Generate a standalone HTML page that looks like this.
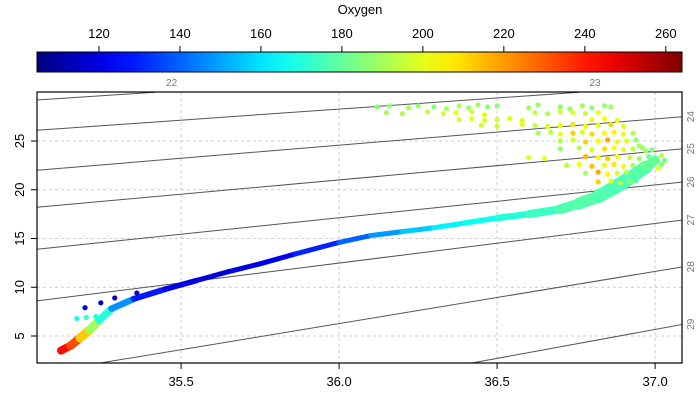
<!DOCTYPE html>
<html><head><meta charset="utf-8"><style>
body{margin:0;background:#fff;}
svg{display:block;font-family:"Liberation Sans",Arial,sans-serif;}
</style></head><body>
<svg id="chart" width="700" height="400" viewBox="0 0 700 400" xmlns="http://www.w3.org/2000/svg">
<defs><linearGradient id="jet" x1="0" x2="1" y1="0" y2="0"></linearGradient>
<clipPath id="clip"><rect x="37" y="92" width="645" height="271"/></clipPath></defs>
<text x="360" y="14" font-size="13" text-anchor="middle">Oxygen</text>
<g id="cbar"></g>
<g id="grid"></g>
<g id="iso" clip-path="url(#clip)"></g>
<g id="isolab"></g>
<g id="pts" clip-path="url(#clip)"></g>
<rect x="37" y="92" width="645" height="271" fill="none" stroke="#000" stroke-width="1.2"/>
<g id="axes"></g>
</svg>
<script>
const NS="http://www.w3.org/2000/svg";
// data
const xTicks=[35.5,36.0,36.5,37.0];
const yTicks=[5,10,15,20,25];
const cbTicks=[120,140,160,180,200,220,240,260];
const sigmaLabels=["22","23","24","25","26","27","28","29"];
// isopycnal endpoints in salinity/temperature
const isoS0=[35.044,35.044,35.044,35.044,35.044,35.044,35.244,36.420];
const isoT0=[29.2,26.1,22.0,18.2,13.9,8.6,2.23,2.23];
const isoS1=[35.417,36.76,37.089,37.089,37.089,37.089,37.089,37.089];
const isoT1=[30.0,30.0,27.5,24.2,20.8,16.9,12.1,6.2];
const isoLabS=[35.47,36.81];
// backbone of the profile
const bS=[35.12,35.15,35.18,35.21,35.24,35.28,35.35,35.45,35.55,35.65,35.75,35.86,36.0,36.1,36.2,36.3,36.4,36.5,36.6,36.7,36.76,36.82,36.87,36.92,36.97,37.0];
const bT=[3.5,4.0,4.8,5.6,6.6,7.8,8.8,9.8,10.7,11.6,12.4,13.4,14.6,15.3,15.7,16.1,16.6,17.1,17.5,18.0,18.6,19.3,20.2,21.2,22.3,23.0];
const bO=[245,240,225,200,180,160,135,122,118,118,120,125,135,145,152,160,165,168,172,176,178,178,176,176,178,182];
const bW=[8,8,9,9,8,7,6,6,5,5,5,5,5,5,5,5,5,6,7,9,11,13,14,14,12,8];
// scattered points
const pS=[35.17,35.2,35.23,35.196,35.246,35.29,35.36,
36.12,36.16,36.22,36.25,36.3,36.34,36.38,36.41,36.44,36.47,36.5,36.6,36.63,36.7,36.73,36.77,36.8,36.84,36.86,
36.15,36.2,36.28,36.33,36.37,36.42,36.46,36.62,36.66,36.7,36.74,36.78,36.82,
36.38,36.42,36.46,36.5,36.54,36.58,36.8,36.84,36.88,
36.45,36.5,36.58,36.62,36.66,36.7,36.74,36.78,36.82,36.86,36.9,
36.63,36.67,36.7,36.74,36.77,36.8,36.84,36.87,36.9,36.93,
36.7,36.74,36.78,36.82,36.85,36.88,36.91,36.94,
36.7,36.76,36.8,36.84,36.87,36.9,36.93,36.96,36.99,
36.6,36.65,36.78,36.82,36.85,36.88,36.92,36.95,36.98,37.0,
36.72,36.76,36.8,36.84,36.87,36.9,36.93,36.96,36.98,
36.78,36.82,36.85,36.88,36.91,36.94,36.96,
36.82,36.86,36.89,36.92,36.94,
37.02,37.03,37.02,37.01,36.97,36.95];
const pT=[6.8,6.9,7.0,7.9,8.4,8.9,9.4,
28.5,28.6,28.4,28.6,28.5,28.3,28.6,28.4,28.7,28.5,28.6,28.4,28.7,28.5,28.3,28.6,28.4,28.6,28.5,
27.9,27.8,28.0,27.8,27.9,28.0,27.7,27.9,27.8,28.0,27.9,27.8,27.9,
27.2,27.3,27.1,27.2,27.3,27.1,27.2,27.3,27.1,
26.6,26.5,26.7,26.6,26.5,26.6,26.7,26.5,26.6,26.7,26.5,
25.8,25.9,25.7,25.8,25.9,25.7,25.8,25.9,25.7,25.8,
25.0,25.1,24.9,25.0,25.1,24.9,25.0,25.1,
24.2,24.3,24.1,24.2,24.3,24.1,24.2,24.3,24.1,
23.3,23.2,23.4,23.3,23.2,23.4,23.3,23.2,23.4,23.3,
22.5,22.6,22.4,22.5,22.6,22.4,22.5,22.6,22.4,
21.7,21.8,21.6,21.7,21.8,21.6,21.7,
20.8,20.9,20.7,20.8,20.9,
22.6,23.0,23.5,22.2,24.0,24.5];
const pO=[168,172,170,115,115,115,115,
185,187,190,188,186,190,192,188,190,187,185,190,188,186,188,190,187,188,189,
190,192,195,198,200,196,199,194,192,196,198,195,200,
198,200,199,196,200,198,202,204,200,
198,196,200,195,200,202,208,205,200,210,200,
190,194,200,212,198,210,202,206,200,192,
192,198,212,205,218,200,198,188,
188,192,200,210,205,200,195,188,185,
198,200,215,205,212,202,196,188,182,180,
194,205,214,200,208,202,190,182,178,
190,218,205,198,192,180,176,
212,200,194,186,178,
185,182,195,200,188,190];
const cmin=104.7,cmax=264;
const X=s=>37+(s-35.044)*316, Y=t=>363-(t-2.23)*9.75;
function jet(v){let f=(v-cmin)/(cmax-cmin);f=Math.max(0,Math.min(1,f));
 const c=x=>Math.round(255*Math.max(0,Math.min(1,x)));
 return `rgb(${c(1.5-Math.abs(4*f-3))},${c(1.5-Math.abs(4*f-2))},${c(1.5-Math.abs(4*f-1))})`;}
function mk(tag,attrs,parent){const e=document.createElementNS(NS,tag);for(const k in attrs)e.setAttribute(k,attrs[k]);parent.appendChild(e);return e;}
// gradient
const g=document.getElementById('jet');
for(let i=0;i<=20;i++){mk('stop',{offset:(i/20),'stop-color':jet(cmin+(cmax-cmin)*i/20)},g);}
const cb=document.getElementById('cbar');
const cbr=mk('rect',{x:37,y:52,width:645,height:20,fill:'url(#jet)',stroke:'#000','stroke-width':1},cb);


const CX=v=>37+(v-cmin)/(cmax-cmin)*645;
cbTicks.forEach(v=>{const l=mk('line',{x1:CX(v),x2:CX(v),y1:46,y2:52,stroke:'#000'},cb);
 
 
 const t=mk('text',{x:CX(v),y:38,'font-size':13,'text-anchor':'middle'},cb);t.textContent=v;
 
 });
// grid & axes
const gr=document.getElementById('grid'),ax=document.getElementById('axes');
xTicks.forEach(v=>{const l=mk('line',{x1:X(v),x2:X(v),y1:92,y2:363,stroke:'#ccc','stroke-dasharray':'3,3'},gr);
 
 
 const tk=mk('line',{x1:X(v),x2:X(v),y1:363,y2:369,stroke:'#000'},ax);
 
 
 const t=mk('text',{x:X(v),y:386,'font-size':13,'text-anchor':'middle'},ax);t.textContent=v.toFixed(1);
 
 });
yTicks.forEach(v=>{const l=mk('line',{x1:37,x2:682,y1:Y(v),y2:Y(v),stroke:'#ccc','stroke-dasharray':'3,3'},gr);
 
 
 const tk=mk('line',{x1:31,x2:37,y1:Y(v),y2:Y(v),stroke:'#000'},ax);
 
 
 const t=mk('text',{x:24,y:Y(v),'font-size':13,'text-anchor':'middle',transform:`rotate(-90 24 ${Y(v)})`},ax);t.textContent=v;
 
 });
// isopycnals
const iso=document.getElementById('iso'),il=document.getElementById('isolab');
sigmaLabels.forEach((s,i)=>{const l=mk('line',{x1:X(isoS0[i]),y1:Y(isoT0[i]),x2:X(isoS1[i]),y2:Y(isoT1[i]),stroke:'#555','stroke-width':1},iso);
 
 
 let t;
 if(i<2){t=mk('text',{x:X(isoLabS[i]),y:86,'font-size':10,fill:'#777','text-anchor':'middle'},il);}
 else{const yy=Y(isoT1[i]);t=mk('text',{x:694,y:yy,'font-size':10,fill:'#777','text-anchor':'middle',transform:`rotate(-90 694 ${yy})`},il);}
 t.textContent=s;
 
 });
// backbone band
const pts=document.getElementById('pts');
for(let i=0;i<bS.length-1;i++){const l=mk('line',{x1:X(bS[i]),y1:Y(bT[i]),x2:X(bS[i+1]),y2:Y(bT[i+1]),stroke:jet((bO[i]+bO[i+1])/2),'stroke-width':(bW[i]+bW[i+1])/2,'stroke-linecap':'round'},pts);
 
 }
pS.forEach((s,i)=>{const c=mk('circle',{cx:X(s),cy:Y(pT[i]),r:2.6,fill:jet(pO[i])},pts);
 
 });
</script>
</body></html>
